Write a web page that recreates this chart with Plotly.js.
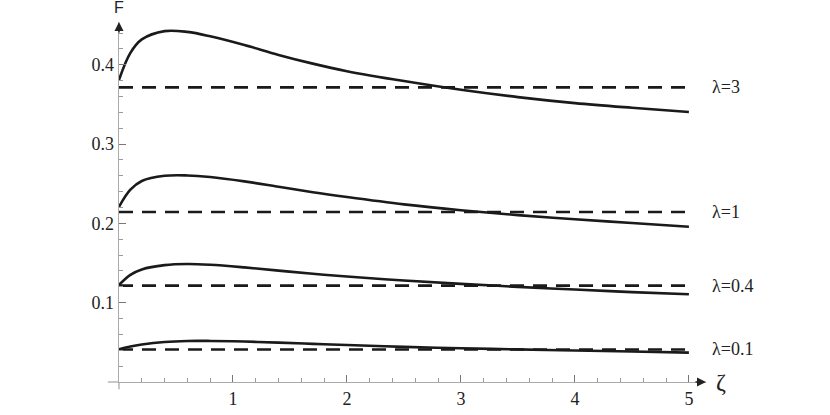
<!DOCTYPE html>
<html><head><meta charset="utf-8">
<script src="https://cdn.plot.ly/plotly-3.0.1.min.js"></script>
<style>body{margin:0;background:#fff}#plot{width:830px;height:415px}</style>
</head><body><div id="plot"></div>
<script>
const zeta    = [0, 0.1, 0.2, 0.4, 0.6, 0.8, 1.1, 1.4, 1.7, 2.0, 2.5, 3.0, 3.5, 4.0, 4.5, 5.0];
const F_lam3  = [0.381, 0.415, 0.432, 0.4425, 0.4415, 0.436, 0.425, 0.4125, 0.4015, 0.392, 0.3795, 0.3685, 0.3593, 0.3517, 0.3458, 0.3405];
const F_lam1  = [0.221, 0.2425, 0.2535, 0.2600, 0.2605, 0.2585, 0.2530, 0.2462, 0.2393, 0.2332, 0.2240, 0.2166, 0.2104, 0.2053, 0.2005, 0.1958];
const F_lam04 = [0.1225, 0.1352, 0.1420, 0.1474, 0.1488, 0.1478, 0.1445, 0.1405, 0.1365, 0.1330, 0.1280, 0.1238, 0.1200, 0.1166, 0.1134, 0.1106];
const F_lam01 = [0.0412, 0.0448, 0.0473, 0.0505, 0.0518, 0.0518, 0.0510, 0.0496, 0.0481, 0.0466, 0.0443, 0.0425, 0.0411, 0.0398, 0.0384, 0.0370];
const asymptotes = [0.3716, 0.2144, 0.1215, 0.0410];
const labels = ['λ=3', 'λ=1', 'λ=0.4', 'λ=0.1'];
const curves = [F_lam3, F_lam1, F_lam04, F_lam01];
const xTicks = [1, 2, 3, 4, 5];
const yTicks = [0.1, 0.2, 0.3, 0.4];
const xRange = [0, 5.15];
const yRange = [0, 0.454];

const traces = [];
curves.forEach(c => traces.push({x: zeta, y: c, mode: 'lines', line: {color: '#1a1a1a', width: 2.6, shape: 'spline', smoothing: 1}, hoverinfo: 'skip'}));
asymptotes.forEach(a => traces.push({x: [0, 5], y: [a, a], mode: 'lines', line: {color: '#1a1a1a', width: 2.6, dash: '14px,9px'}, hoverinfo: 'skip'}));

const annotations = asymptotes.map((a, i) => ({x: 1.007, y: a, xref: 'paper', yref: 'y', text: labels[i], showarrow: false, xanchor: 'left', yanchor: 'middle', font: {family: 'Liberation Serif', size: 18, color: '#222'}}));
annotations.push({x: 1, y: 0, xref: 'paper', yref: 'paper', ax: -12, ay: 0, text: '', showarrow: true, arrowhead: 2, arrowsize: 1.2, arrowwidth: 1.5, arrowcolor: '#222'});
annotations.push({x: 0, y: 1, xref: 'paper', yref: 'paper', ax: 0, ay: 12, text: '', showarrow: true, arrowhead: 2, arrowsize: 1.2, arrowwidth: 1.5, arrowcolor: '#222'});
annotations.push({x: 1, y: 0, xref: 'paper', yref: 'paper', xshift: 8, text: 'ζ', showarrow: false, xanchor: 'left', yanchor: 'middle', font: {family: 'Liberation Serif', size: 24, color: '#222'}});
annotations.push({x: 0, y: 1, xref: 'paper', yref: 'paper', yshift: 4, text: 'F', showarrow: false, xanchor: 'center', yanchor: 'bottom', font: {family: 'Liberation Sans', size: 16, color: '#222'}});

const layout = {
  width: 830, height: 415,
  margin: {l: 119, r: 124, t: 22, b: 33},
  paper_bgcolor: '#fff', plot_bgcolor: '#fff',
  showlegend: false,
  xaxis: {range: xRange, showgrid: false, zeroline: false, showline: true, linecolor: '#aaa', linewidth: 1.3,
    tickvals: xTicks, ticktext: xTicks.map(String), ticks: 'inside', ticklen: 7, tickcolor: '#777', tickwidth: 1,
    minor: {dtick: 0.2, tick0: 0, ticks: 'inside', ticklen: 4, tickcolor: '#999'},
    tickfont: {family: 'Liberation Serif', size: 18, color: '#222'}},
  yaxis: {range: yRange, showgrid: false, zeroline: false, showline: true, linecolor: '#aaa', linewidth: 1.3,
    tickvals: yTicks, ticktext: yTicks.map(String), ticks: 'inside', ticklen: 7, tickcolor: '#777', tickwidth: 1,
    minor: {dtick: 0.02, tick0: 0, ticks: 'inside', ticklen: 4, tickcolor: '#999'},
    tickfont: {family: 'Liberation Serif', size: 18, color: '#222'}},
  shapes: [
    {type: 'line', xref: 'paper', yref: 'paper', x0: -0.019, x1: 0, y0: 0, y1: 0, line: {color: '#aaa', width: 1.3}},
    {type: 'line', xref: 'paper', yref: 'paper', x0: 0, x1: 0, y0: -0.02, y1: 0, line: {color: '#aaa', width: 1.3}}
  ],
  annotations: annotations
};
Plotly.newPlot('plot', traces, layout, {displayModeBar: false, staticPlot: true});
</script></body></html>
